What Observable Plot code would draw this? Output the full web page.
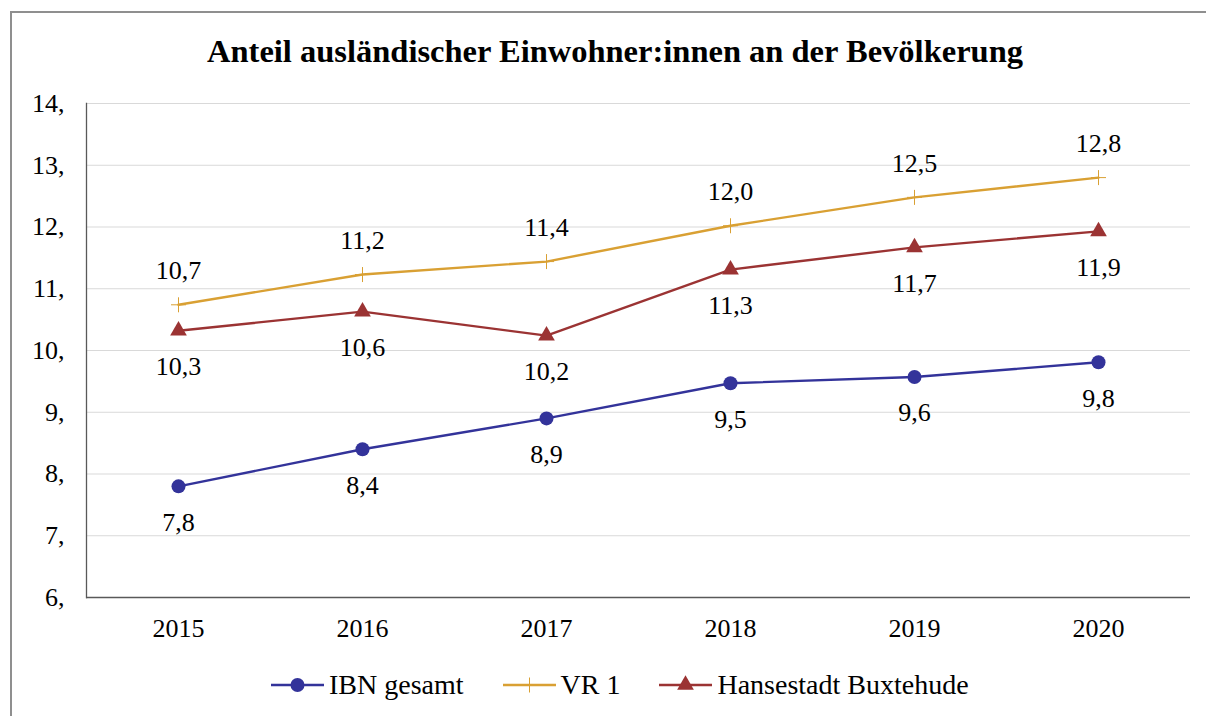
<!DOCTYPE html>
<html><head><meta charset="utf-8">
<script src="https://cdn.jsdelivr.net/npm/d3@7"></script>
<script src="https://cdn.jsdelivr.net/npm/@observablehq/plot@0.6"></script>
<style>
body{margin:0;background:#fff;font-family:"Liberation Serif",serif;width:1206px;height:716px;overflow:hidden;}
#frame{position:absolute;left:10px;top:11px;width:1210px;height:720px;border-left:2px solid #8f8f8f;border-top:2px solid #8f8f8f;}
#chart{position:absolute;left:0;top:0;}
#title{position:absolute;left:0;width:1230px;top:33px;text-align:center;font-weight:bold;font-size:32.5px;line-height:36px;color:#000;white-space:nowrap;}
#legend{position:absolute;top:668px;left:271px;height:34px;display:flex;align-items:center;font-size:28px;color:#000;white-space:nowrap;}
.item{display:flex;align-items:center;margin-right:39px;}
.item svg{margin-right:5px;}
</style>
</head><body>
<div id="chart"></div>
<div id="frame"></div>
<div id="title">Anteil ausländischer Einwohner:innen an der Bevölkerung</div>
<div id="legend"></div>
<script>
const years = [2015, 2016, 2017, 2018, 2019, 2020];
const ibnGesamt = [7.8, 8.4, 8.9, 9.47, 9.57, 9.81];
const vr1 = [10.74, 11.23, 11.44, 12.02, 12.48, 12.8];
const buxtehude = [10.32, 10.63, 10.24, 11.31, 11.67, 11.93];
const seriesNames = ["IBN gesamt", "VR 1", "Hansestadt Buxtehude"];
const seriesColors = ["#33339a", "#d9a033", "#9b3333"];
const yTicks = [6, 7, 8, 9, 10, 11, 12, 13, 14];

const seriesValues = [ibnGesamt, vr1, buxtehude];
const data = [];
seriesNames.forEach((s, i) => years.forEach((y, j) => data.push({series: s, year: y, value: seriesValues[i][j]})));
const fmt = v => v.toFixed(1).replace(".", ",");

const plusSymbol = {draw(ctx, size) {const r = Math.sqrt(size / Math.PI); ctx.moveTo(-r, 0); ctx.lineTo(r, 0); ctx.moveTo(0, -r); ctx.lineTo(0, r);}};

const bySeries = s => data.filter(d => d.series === s);

const chart = Plot.plot({
  width: 1206, height: 716,
  marginLeft: 86, marginRight: 16, marginTop: 103, marginBottom: 119,
  style: {fontFamily: "Liberation Serif, serif", fontSize: "26px", color: "#000", background: "transparent"},
  x: {type: "point", domain: years, padding: 0.5},
  y: {domain: [6, 14]},
  color: {domain: seriesNames, range: seriesColors},
  marks: [
    Plot.gridY(yTicks.filter(t => t > 6), {stroke: "#d9d9d9", strokeOpacity: 1, strokeWidth: 1.2}),
    Plot.ruleY([6], {stroke: "#595959", strokeWidth: 1.3}),
    Plot.frame({anchor: "left", stroke: "#595959", strokeWidth: 1.3}),
    Plot.axisY({ticks: yTicks, tickSize: 0, tickPadding: 22, tickFormat: d => d + ",", fill: "#000", label: null}),
    Plot.axisX({tickSize: 0, tickPadding: 21, tickFormat: d => String(d), fill: "#000", label: null}),
    Plot.line(data, {x: "year", y: "value", z: "series", stroke: "series", strokeWidth: 2.4}),
    Plot.dot(bySeries("IBN gesamt"), {x: "year", y: "value", r: 7, fill: seriesColors[0], symbol: "circle"}),
    Plot.dot(bySeries("Hansestadt Buxtehude"), {x: "year", y: "value", r: 6.2, fill: seriesColors[2], symbol: "triangle"}),
    Plot.dot(bySeries("VR 1"), {x: "year", y: "value", r: 7.5, fill: "none", stroke: seriesColors[1], strokeWidth: 1, symbol: plusSymbol}),
    Plot.text(bySeries("IBN gesamt"), {x: "year", y: "value", text: d => fmt(d.value), dy: 36, fill: "#000"}),
    Plot.text(bySeries("Hansestadt Buxtehude"), {x: "year", y: "value", text: d => fmt(d.value), dy: 36, fill: "#000"}),
    Plot.text(bySeries("VR 1"), {x: "year", y: "value", text: d => fmt(d.value), dy: -34, fill: "#000"})
  ]
});
document.getElementById("chart").appendChild(chart);

// legend
const legend = d3.select("#legend");
const symbols = ["circle", "plus", "triangle"];
seriesNames.forEach((s, i) => {
  const item = legend.append("div").attr("class", "item");
  const svg = item.append("svg").attr("width", 53).attr("height", 20);
  svg.append("line").attr("x1", 0).attr("x2", 53).attr("y1", 10).attr("y2", 10).attr("stroke", seriesColors[i]).attr("stroke-width", 2.4);
  if (symbols[i] === "circle") svg.append("circle").attr("cx", 26.5).attr("cy", 10).attr("r", 7).attr("fill", seriesColors[i]);
  else if (symbols[i] === "triangle") svg.append("path").attr("transform", "translate(26.5,10)").attr("d", d3.symbol(d3.symbolTriangle, Math.PI * 6.2 * 6.2)()).attr("fill", seriesColors[i]);
  else svg.append("path").attr("d", "M26.5,2.5V17.5").attr("stroke", seriesColors[i]).attr("stroke-width", 1);
  item.append("span").text(s);
});
</script>
</body></html>
